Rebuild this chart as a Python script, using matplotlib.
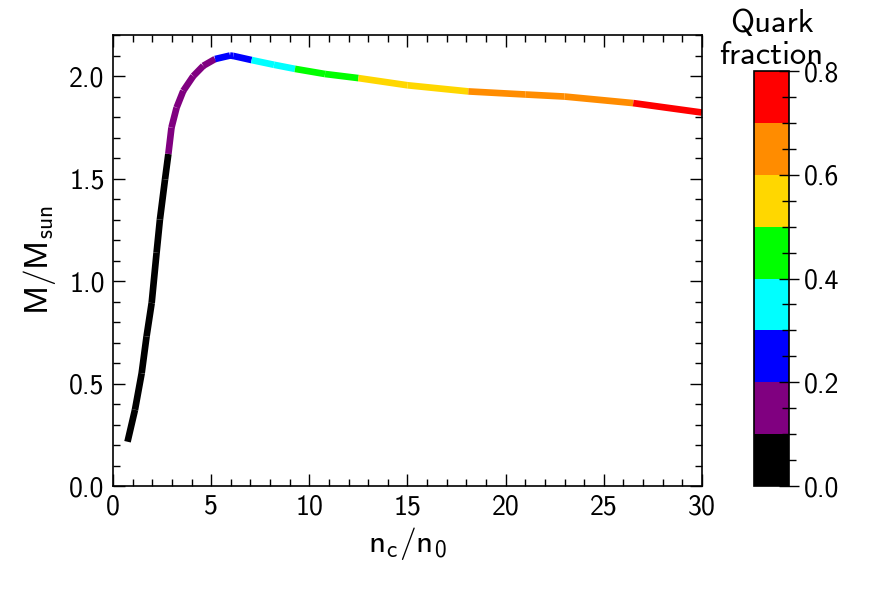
"""
mass vs central density, coloured by quark fraction
"""

import numpy as np
import matplotlib
matplotlib.use('Agg')
import matplotlib.pyplot as plt
from matplotlib.collections import LineCollection
from matplotlib.colors import ListedColormap, BoundaryNorm
from matplotlib.cm import ScalarMappable
from matplotlib.ticker import MultipleLocator

plt.rcParams['font.family'] = 'cmss10'
plt.rcParams['mathtext.fontset'] = 'custom'
plt.rcParams['mathtext.rm'] = 'cmss10'
plt.rcParams['mathtext.it'] = 'cmss10'
plt.rcParams['axes.unicode_minus'] = False

n_c = [0.74, 1.12, 1.46, 1.71, 1.97, 2.22, 2.39, 2.65, 2.82, 2.98, 3.24,
       3.58, 4.09, 4.60, 5.20, 5.96, 6.13, 7.06, 8.20, 9.27,
       10.8, 12.5, 15.0, 18.1, 21.0, 23.0, 26.5, 30.0]
mass = [0.216, 0.372, 0.55, 0.73, 0.893, 1.138, 1.30, 1.496, 1.62, 1.749,
        1.846, 1.928, 2.00, 2.05, 2.083, 2.10, 2.098, 2.078, 2.055, 2.035,
        2.01, 1.99, 1.955, 1.925, 1.91, 1.90, 1.868, 1.822]
quark_frac = [0.0, 0.0, 0.0, 0.0, 0.0, 0.02, 0.04, 0.07, 0.10, 0.12, 0.13,
              0.15, 0.17, 0.185, 0.20, 0.24, 0.25, 0.30, 0.35, 0.40,
              0.45, 0.50, 0.55, 0.60, 0.64, 0.66, 0.70, 0.73]

bar_colors = ['black', 'purple', 'blue', 'cyan', 'lime', 'gold',
              'darkorange', 'red']
bar_bounds = [0.0, 0.1, 0.2, 0.3, 0.4, 0.5, 0.6, 0.7, 0.8]

cmap = ListedColormap(bar_colors)
norm = BoundaryNorm(bar_bounds, cmap.N)

fig = plt.figure(figsize=(8.78, 5.93), dpi=100)
ax = fig.add_axes([0.1287, 0.1804, 0.6708, 0.7605])
cax = fig.add_axes([0.8588, 0.1804, 0.0399, 0.6998])

pts = np.column_stack([n_c, mass])
segs = np.stack([pts[:-1], pts[1:]], axis=1)
frac = np.asarray(quark_frac)
seg_frac = 0.5 * (frac[:-1] + frac[1:])
lc = LineCollection(segs, cmap=cmap, norm=norm, linewidth=4.8,
                    capstyle='butt', joinstyle='round')
lc.set_array(seg_frac)
ax.add_collection(lc)

ax.set_xlim(0, 30)
ax.set_ylim(0, 2.2)
ax.xaxis.set_major_locator(MultipleLocator(5))
ax.xaxis.set_minor_locator(MultipleLocator(1))
ax.yaxis.set_major_locator(MultipleLocator(0.5))
ax.yaxis.set_minor_locator(MultipleLocator(0.1))
ax.tick_params(which='both', direction='in', top=True, right=True,
               labelsize=20, width=1)
ax.tick_params(which='major', length=8.5, pad=6)
ax.tick_params(which='minor', length=4.8)
for sp in ax.spines.values():
    sp.set_linewidth(1.2)
ax.set_xlabel(r'$\mathrm{n_c/n_0}$', fontsize=24, labelpad=4)
ax.set_ylabel(r'$\mathrm{M/M_{sun}}$', fontsize=24, labelpad=8)

cbar = fig.colorbar(ScalarMappable(norm=norm, cmap=cmap), cax=cax)
cbar.set_ticks([0.0, 0.2, 0.4, 0.6, 0.8])
cbar.ax.yaxis.set_minor_locator(MultipleLocator(0.05))
cbar.ax.tick_params(which='both', direction='inout', labelsize=20, width=1)
cbar.ax.tick_params(which='major', length=14, pad=4)
cbar.ax.tick_params(which='minor', length=9.5)
cbar.outline.set_linewidth(1.2)
cbar.ax.set_title('Quark\nfraction', fontsize=23.5, pad=5, linespacing=1.15)

fig.savefig('out.png', dpi=100)
